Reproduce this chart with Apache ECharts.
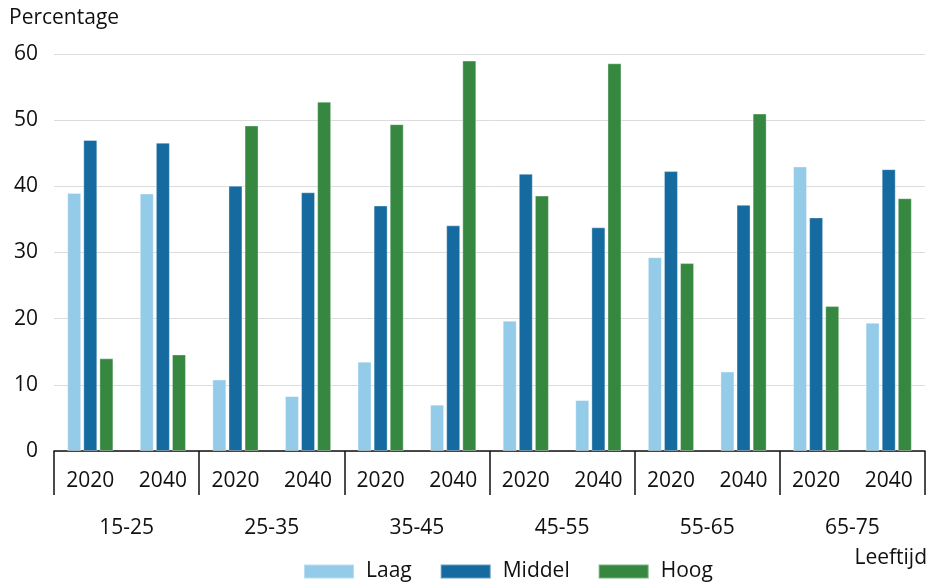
<!DOCTYPE html>
<html>
<head>
<meta charset="utf-8">
<script src="https://cdn.jsdelivr.net/npm/echarts@6/dist/echarts.min.js"></script>
<style>
html,body{margin:0;padding:0;background:#fff;}
#chart{width:934px;height:588px;}
</style>
</head>
<body>
<div id="chart"></div>
<script>
var years = ['2020','2040','2020','2040','2020','2040','2020','2040','2020','2040','2020','2040'];
var ageGroups = ['15-25','25-35','35-45','45-55','55-65','65-75'];
var laag   = [39.0, 38.9, 10.8, 8.3, 13.5, 7.0, 19.7, 7.7, 29.3, 12.0, 43.0, 19.4];
var middel = [47.0, 46.6, 40.1, 39.1, 37.1, 34.1, 41.9, 33.8, 42.3, 37.2, 35.3, 42.6];
var hoog   = [14.0, 14.6, 49.2, 52.8, 49.4, 59.0, 38.6, 58.6, 28.4, 51.0, 21.9, 38.2];

var font = 'Open Sans';
var fs = 21;
var chart = echarts.init(document.getElementById('chart'));

function barSeries(name, data, color){
    return {
        name: name,
        type: 'bar',
        data: data,
        barWidth: 14,
        barGap: '15%',
        itemStyle: {color: color, borderColor: 'rgba(255,255,255,0.35)', borderWidth: 1},
        emphasis: {disabled: true}
    }
}

var option = {
    animation: false,
    textStyle: {fontFamily: font},
    title: [
        {text: 'Percentage', left: 4, top: 3, textStyle: {fontFamily: font, fontSize: fs, fontWeight: 'normal', color: '#111'}},
        {text: 'Leeftijd', right: 2, top: 543, textStyle: {fontFamily: font, fontSize: fs, fontWeight: 'normal', color: '#111'}}
    ],
    legend: {
        bottom: 1,
        left: 298,
        itemWidth: 50,
        itemHeight: 14,
        itemGap: 28,
        icon: 'rect',
        textStyle: {fontFamily: font, fontSize: fs, color: '#111', padding: [0, 0, 0, 7]},
        data: ['Laag', 'Middel', 'Hoog']
    },
    grid: {left: 54, right: 9, top: 54, bottom: 137},
    xAxis: [
        {
            type: 'category',
            data: years,
            axisLine: {lineStyle: {color: '#111', width: 1.5}},
            axisTick: {show: false},
            axisLabel: {fontFamily: font, fontSize: fs, color: '#111', margin: 20}
        },
        {
            type: 'category',
            data: ageGroups,
            position: 'bottom',
            axisLine: {show: false},
            axisTick: {show: true, length: 44, lineStyle: {color: '#111', width: 1.5}},
            axisLabel: {fontFamily: font, fontSize: fs, color: '#111', margin: 67}
        }
    ],
    yAxis: {
        type: 'value',
        min: 0,
        max: 60,
        interval: 10,
        axisLine: {show: false},
        axisTick: {show: false},
        splitLine: {lineStyle: {color: '#dcdcdc', width: 1}},
        axisLabel: {fontFamily: font, fontSize: fs, color: '#111', margin: 16}
    },
    series: [
        barSeries('Laag', laag, '#93cbe9'),
        barSeries('Middel', middel, '#156ba0'),
        barSeries('Hoog', hoog, '#368841')
    ]
};
chart.setOption(option);
</script>
</body>
</html>
